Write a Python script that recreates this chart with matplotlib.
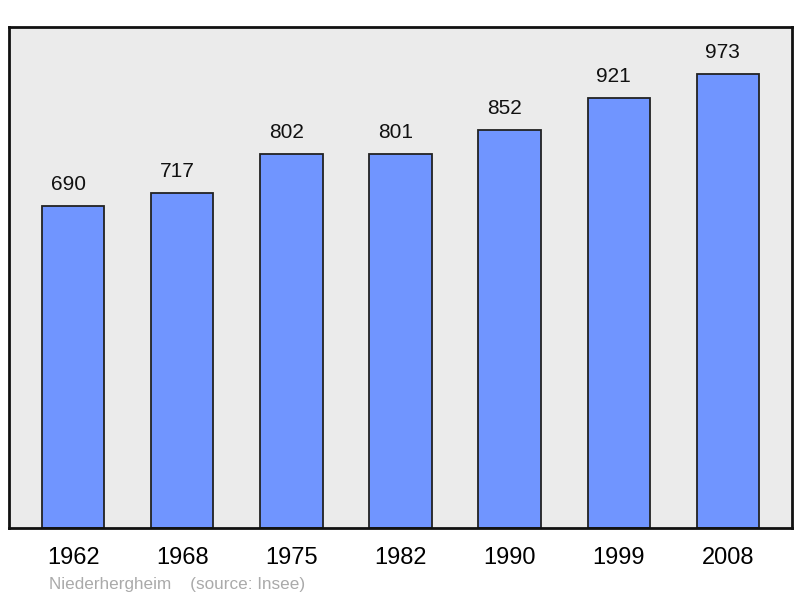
import matplotlib.pyplot as plt

plt.rcParams['font.family'] = ['Liberation Sans', 'DejaVu Sans']

years = ["1962", "1968", "1975", "1982", "1990", "1999", "2008"]
population = [690, 717, 802, 801, 852, 921, 973]

fig = plt.figure(figsize=(8, 5.98), dpi=100)
ax = fig.add_axes([9 / 800, 70 / 598, 783 / 800, 501 / 598])
ax.set_facecolor("#ebebeb")

x = range(len(years))
ax.bar(x, population, width=0.57, color="#7095ff", edgecolor="#222222", linewidth=1.3)

# value labels above bars
for i, v in enumerate(population):
    ax.annotate(str(v), (i, v), xytext=(-3.5, 15.5), textcoords="offset points",
                ha="center", va="center", fontsize=15, color="#111111")

ax.set_xlim(-0.59, 6.59)
ax.set_ylim(0, 1073)
ax.set_yticks([])
ax.set_xticks(list(x))
ax.set_xticklabels(years, fontsize=17)
ax.tick_params(axis="x", length=0, pad=14)
for s in ax.spines.values():
    s.set_linewidth(2)
    s.set_color("#111111")

fig.text(49 / 800, 1 - 584 / 598, "Niederhergheim    (source: Insee)",
         fontsize=12.3, color="#aaaaaa", va="center")

plt.savefig("out.png", dpi=100)
